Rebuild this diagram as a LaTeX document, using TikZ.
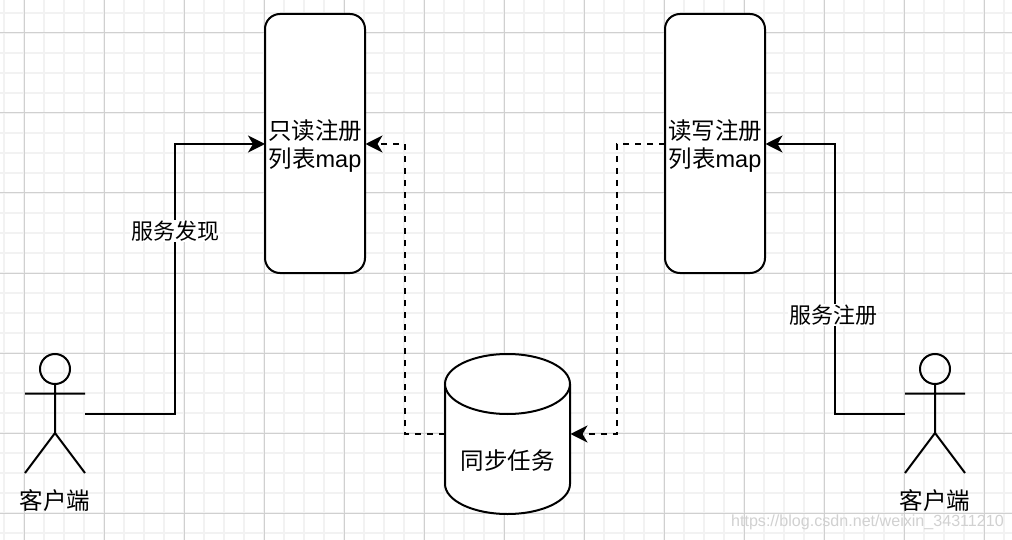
\documentclass[tikz,border=0pt]{standalone}
\usepackage{fontspec}
\setmainfont{Liberation Sans}
\newfontfamily\cjk{Noto Sans CJK SC}
\usetikzlibrary{arrows.meta,shapes.geometric}
\definecolor{gridmajor}{HTML}{D0D0D0}
\definecolor{gridminor}{HTML}{F2F2F2}
\tikzset{
  x=1pt,y=-1pt,
  line/.style={line width=2pt,black},
  flow/.style={line,-{Stealth[length=17pt,width=17pt,inset=5pt]}},
  dashflow/.style={flow,dash pattern=on 6pt off 6pt},
  panel/.style={line,draw,fill=white,rounded corners=15pt,outer sep=0pt,inner sep=0pt,
    minimum width=100pt,minimum height=259pt,anchor=north west},
  lbl/.style={inner sep=1pt,font=\fontsize{23.5}{28}\selectfont\cjk},
  edgelbl/.style={inner sep=1pt,font=\fontsize{22}{28}\selectfont\cjk,fill=white},
  actor/.pic={
    \draw[line] (0,0) circle[radius=15];
    \draw[line] (0,15) -- (0,64) (-30,24.5) -- (30,24.5)
      (-30,104) -- (0,64) -- (30,104);
  }
}
\begin{document}
\begin{tikzpicture}
\useasboundingbox (0,0) rectangle (1012,540);
\fill[white] (0,0) rectangle (1012,540);
% background grid
\foreach \gx in {4,24,...,1004} \draw[gridminor,line width=1.6pt] (\gx,0) -- (\gx,540);
\foreach \gy in {13,33,...,533} \draw[gridminor,line width=1.6pt] (0,\gy) -- (1012,\gy);
\foreach \gx in {24,104,...,1004} \draw[gridmajor,line width=1pt] (\gx,0) -- (\gx,540);
\foreach \gy in {33,113,...,513} \draw[gridmajor,line width=1pt] (0,\gy) -- (1012,\gy);

% registry lists
\node[panel] (ro) at (265,14) {};
\node[lbl,align=center,text width=100pt] (roT) at (315,146) {只读注册\\列表{\rmfamily map}};
\node[panel] (rw) at (665,14) {};
\node[lbl,align=center,text width=100pt] (rwT) at (715,146) {读写注册\\列表{\rmfamily map}};

% sync job cylinder
\draw[line,fill=white] (445,384) -- (445,484)
  arc[x radius=62.5,y radius=30,start angle=180,end angle=0] -- (570,384);
\draw[line,fill=white] (507.5,384) circle[x radius=62.5,y radius=30];
\node[lbl] (job) at (507.5,461) {同步任务};
\coordinate (jobL) at (445,434);
\coordinate (jobR) at (570.5,434);

% clients
\pic at (55,369) {actor};
\pic at (935,369) {actor};
\node[lbl] (cl) at (55,501) {客户端};
\node[lbl] (cr) at (935,501) {客户端};
\coordinate (clH) at (85,413.5);
\coordinate (crH) at (905,413.5);
\coordinate (roL) at (265,144);
\coordinate (roR) at (365.5,144);
\coordinate (rwL) at (665,144);
\coordinate (rwR) at (765.5,144);

% connectors
\draw[flow] (clH) -| (175,144) -- (roL);
\draw[flow] (crH) -| (835,144) -- (rwR);
\draw[dashflow] (jobL) -| (405,144) -- (roR);
\draw[dashflow] (rwL) -| (617,434) -- (jobR);
\node[edgelbl] (find) at (175,231) {服务发现};
\node[edgelbl] (reg) at (833,315) {服务注册};

% watermark
\node[text=black!18,font=\fontsize{16.1}{18}\selectfont,anchor=east,inner sep=0pt] (wm) at (1004,522) {https://blog.csdn.net/weixin\_34311210};
\end{tikzpicture}
\end{document}
